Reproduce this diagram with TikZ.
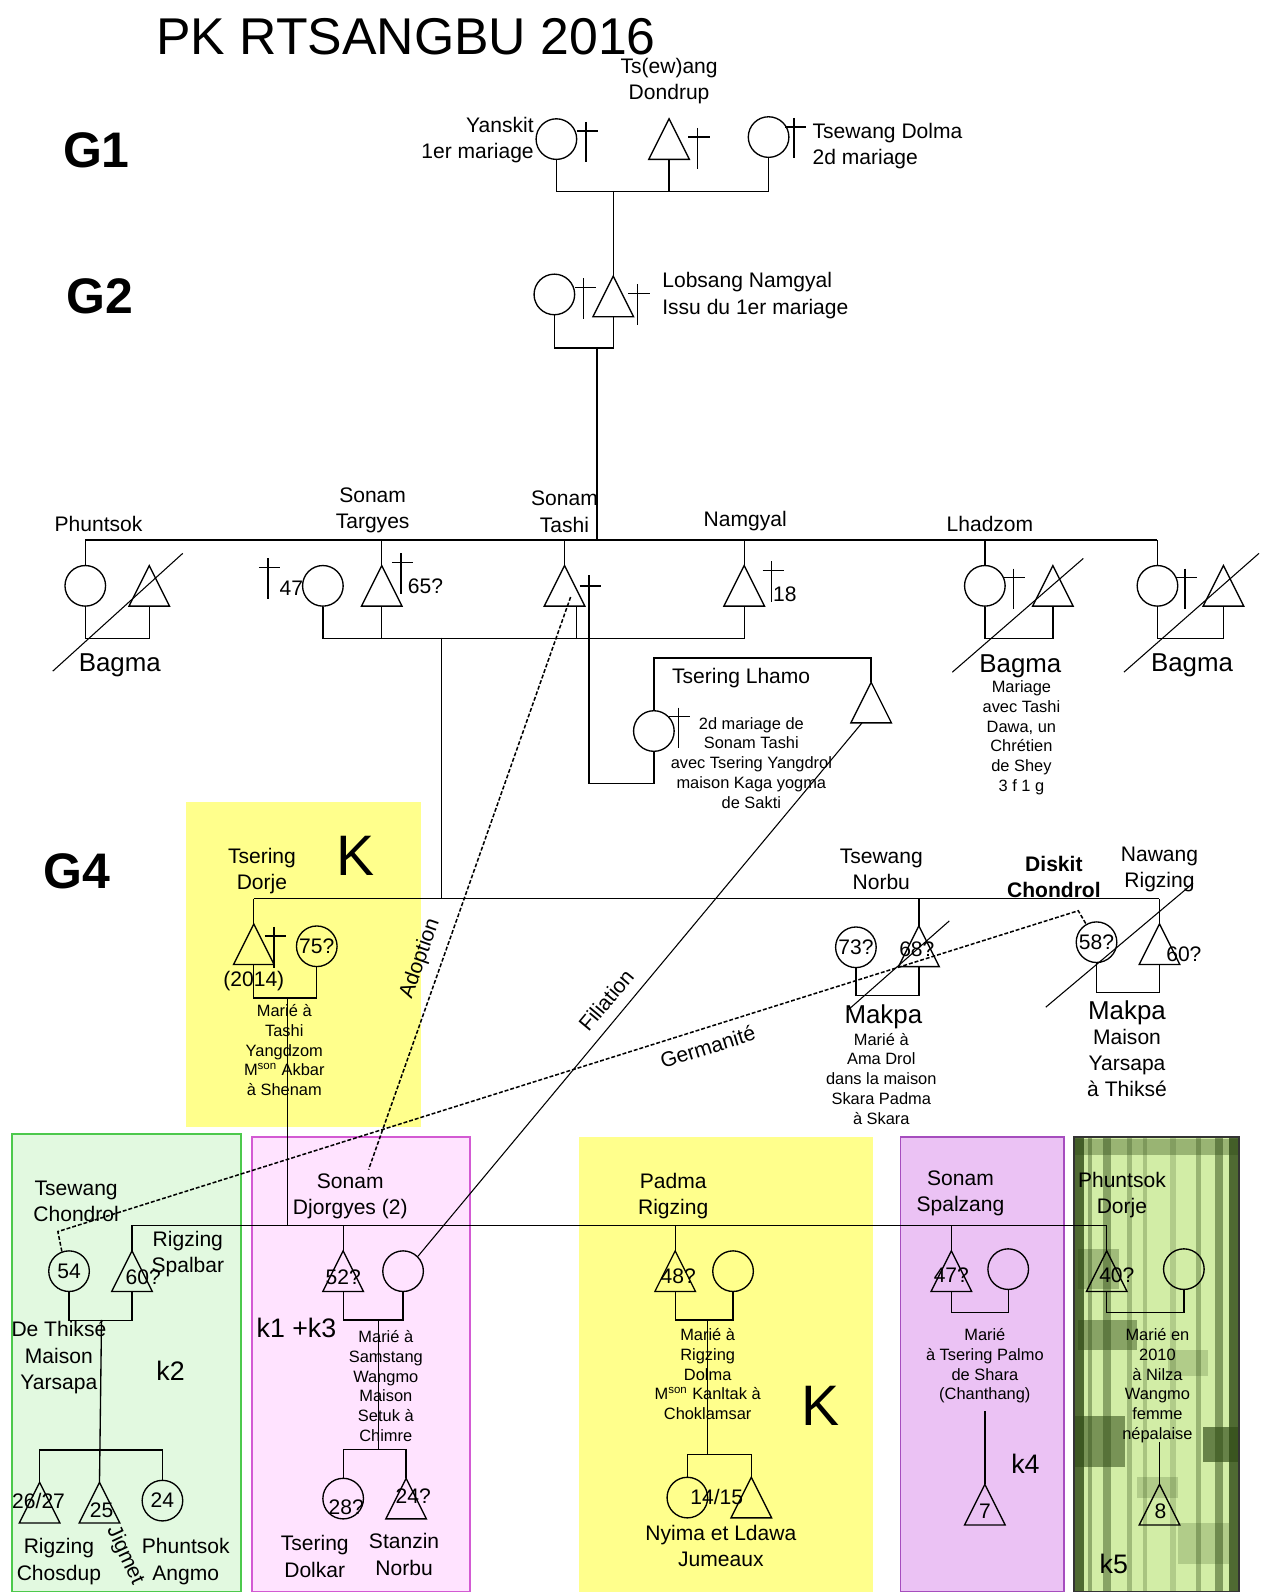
\documentclass[tikz,border=0pt]{standalone}
\usepackage{fontspec}
\setmainfont{Liberation Sans}
\usetikzlibrary{positioning, calc}
\definecolor{kyellow}{HTML}{FFFF8C}
\definecolor{kgreenf}{HTML}{E2F9E0}
\definecolor{kgreend}{HTML}{4CC94C}
\definecolor{kpinkf}{HTML}{FFE3FF}
\definecolor{kpinkd}{HTML}{D35AD3}
\definecolor{kviolf}{HTML}{EBC2F4}
\definecolor{kviold}{HTML}{A64DBE}
\definecolor{kmoss}{HTML}{D2EDA6}
\definecolor{kmossd}{HTML}{2F4A16}
% male: triangle with apex at (#2,#3), base centre named #1-b
\newcommand{\kmale}[3]{%
  \coordinate (#1) at (#2,#3);
  \coordinate (#1-b) at (#2,#3+40);
  \draw[sym] (#1) -- ++(20,40) -- ++(-40,0) -- cycle;}
% deceased: small cross, top of the stem at (#1,#2)
\newcommand{\kdead}[2]{%
  \draw[sym] (#1,#2) -- ++(0,40) (#1-9,#2+9) -- ++(21,0);}

\begin{document}
\begin{tikzpicture}[x=0.02cm, y=-0.02cm,
    sym/.style={draw=black, line width=0.75pt},
    fem/.style={draw=black, line width=0.75pt, circle, minimum size=0.8cm,
                inner sep=0pt, font=\fontsize{11.8}{14}\selectfont},
    lbl/.style={font=\fontsize{11.8}{14.7}\selectfont, inner sep=0pt, align=center},
    sml/.style={font=\fontsize{9.2}{11.1}\selectfont, inner sep=0pt, align=center,
                anchor=north},
    big/.style={font=\fontsize{14.5}{17}\selectfont, inner sep=0pt},
    kay/.style={font=\fontsize{15}{18}\selectfont, inner sep=0pt},
    bigk/.style={font=\fontsize{32}{36}\selectfont, inner sep=0pt},
    gen/.style={font=\fontsize{28}{32}\selectfont\bfseries, inner sep=0pt},
    strike/.style={draw=black, line width=0.6pt},
    link/.style={draw=black, line width=0.85pt, dash pattern=on 2.2pt off 1.1pt},
    fil/.style={draw=black, line width=0.6pt},
  ]
\useasboundingbox (0,0) rectangle (1242,1568);

% =========================================================================
% background boxes
% =========================================================================
\fill[kyellow] (183,790) rectangle (415,1110);
\filldraw[fill=kgreenf, draw=kgreend, line width=1pt] (12,1117) rectangle (237,1568);
\filldraw[fill=kpinkf, draw=kpinkd, line width=1pt] (248,1120) rectangle (463,1568);
\fill[kyellow] (570,1120) rectangle (860,1568);
\filldraw[fill=kviolf, draw=kviold, line width=1pt] (887,1120) rectangle (1048,1568);
\begin{scope}
  \clip (1058,1120) rectangle (1220,1568);
  \fill[kmoss] (1058,1120) rectangle (1220,1568);
  \foreach \sx/\sw/\so in {1059/9/0.8, 1072/4/0.4, 1086/8/0.45, 1110/5/0.3,
                           1126/4/0.25, 1152/6/0.2, 1178/5/0.35, 1197/8/0.5, 1210/10/0.8}{
    \fill[kmossd, opacity=\so] (\sx,1120) rectangle ++(\sw,448);}
  \foreach \bx/\by/\bw/\bh/\bo in {1058/1122/162/16/0.35, 1062/1230/40/40/0.3,
                                   1062/1300/58/30/0.45, 1150/1330/40/25/0.2,
                                   1058/1395/50/50/0.55, 1185/1405/35/35/0.65,
                                   1120/1455/40/20/0.2, 1160/1500/50/40/0.2}{
    \fill[kmossd, opacity=\bo] (\bx,\by) rectangle ++(\bw,\bh);}
\end{scope}
\draw[draw=black!80, line width=1pt] (1058,1120) rectangle (1220,1568);

% =========================================================================
% titles
% =========================================================================
\node[font=\fontsize{29}{34}\selectfont, inner sep=0pt] (title) at (400,36) {PK RTSANGBU 2016};
\node[gen] (g1) at (95,148) {G1};
\node[gen] (g2) at (98,292) {G2};
\node[gen] (g4) at (76,858) {G4};

% =========================================================================
% G1 -- Ts(ew)ang Dondrup and his two wives
% =========================================================================
\node[fem] (yanskit) at (548,137) {};
\kdead{577}{120}
\kmale{dondrup}{659}{117}
\kdead{687}{126}
\node[fem] (dolma) at (757,135) {};
\kdead{782}{116}
\node[lbl, anchor=east, align=right] (yanskitl) at (526,138) {Yanskit\\1er mariage};
\node[lbl] (dondrupl) at (659,80) {Ts(ew)ang\\Dondrup};
\node[lbl, anchor=west, align=left] (dolmal) at (800,144) {Tsewang Dolma\\2d mariage};
\coordinate (g1bar) at (604,188);
\draw[sym] (yanskit.south) -- ++(0,31) -| (dolma.south);
\draw[sym] (dondrup-b) -- (dondrup-b |- g1bar);

% =========================================================================
% G2 -- Lobsang Namgyal
% =========================================================================
\node[fem] (g2wife) at (546,290) {};
\kdead{575}{274}
\kmale{lobsang}{604}{272}
\kdead{628}{280}
\node[lbl, anchor=west, align=left] (lobsangl) at (652,291) {Lobsang Namgyal\\Issu du 1er mariage};
\draw[sym] (g1bar) -- (lobsang);
\draw[sym] (g2wife.south) -- ++(0,32) -| (lobsang-b);
\coordinate (g2bar) at (588,342);

% =========================================================================
% G3 -- siblings
% =========================================================================
\coordinate (g3l) at (84,532);
\coordinate (g3r) at (1140,532);
\draw[sym] (g3l) -- (g3r);
\draw[sym] (g2bar) -- (g2bar |- g3l);

% Phuntsok
\node[fem] (phuntsok) at (84,577) {};
\kmale{phuntsokh}{147}{557}
\draw[sym] (phuntsok.north |- g3l) -- (phuntsok.north);
\draw[sym] (phuntsok.south) -- ++(0,31) -| (phuntsokh-b);
\draw[strike] (52,661) -- (180,545);
\node[lbl] (phuntsokl) at (97,516) {Phuntsok};
\node[big] (bagma1) at (118,655) {Bagma};

% Sonam Targyes
\node[fem] (targw) at (318,577) {};
\kdead{264}{550}
\node[lbl] (d47) at (287,579) {47};
\kmale{targyes}{376}{557}
\kdead{395}{545}
\node[lbl] (d65) at (419,577) {65?};
\node[lbl] (targyesl) at (367,503) {Sonam\\Targyes};
\draw[sym] (targyes |- g3l) -- (targyes);

% Sonam Tashi
\kmale{tashi}{556}{557}
\coordinate (tashix) at (580,566);
\coordinate (tashiv) at (568,598);
\draw[sym] (571,577) -- ++(21,0);
\node[lbl] (tashil) at (556,504) {Sonam\\Tashi};
\draw[sym] (tashi |- g3l) -- (tashi);

% Namgyal
\kmale{namgyal}{733}{557}
\kdead{760}{553}
\node[lbl] (d18) at (773,585) {18};
\node[lbl] (namgyall) at (734,513) {Namgyal};
\draw[sym] (namgyal |- g3l) -- (namgyal);

% couple line shared by Targyes, Tashi and Namgyal
\coordinate (g3bar) at (435,628);
\draw[sym] (targw.south) -- ++(0,31) -| (namgyal-b);
\draw[sym] (targyes-b) -- (targyes-b |- g3bar);
\draw[sym] (tashiv) -- (tashiv |- g3bar);

% Lhadzom
\node[fem] (lhadzom) at (970,577) {};
\kdead{998}{560}
\kmale{lhadzomh}{1037}{557}
\draw[sym] (lhadzom.north |- g3l) -- (lhadzom.north);
\draw[sym] (lhadzom.south) -- ++(0,31) -| (lhadzomh-b);
\draw[strike] (938,662) -- (1067,550);
\node[lbl] (lhadzoml) at (975,516) {Lhadzom};
\node[big] (bagma2) at (1005,656) {Bagma};
\node[sml] (bagmanote) at (1006,670) {Mariage\\avec Tashi\\Dawa, un\\Chrétien\\de Shey\\3 f 1 g};

% last sister
\node[fem] (bagmaw) at (1140,577) {};
\kdead{1167}{560}
\kmale{bagmah}{1205}{557}
\draw[sym] (g3r) -- (bagmaw.north);
\draw[sym] (bagmaw.south) -- ++(0,31) -| (bagmah-b);
\draw[strike] (1107,662) -- (1240,545);
\node[big] (bagma3) at (1174,655) {Bagma};

% Tsering Lhamo, second marriage of Sonam Tashi
\node[fem] (lhamo) at (644,720) {};
\kdead{668}{697}
\kmale{lhamoh}{858}{672}
\draw[sym] (lhamo.north) -- (644,648) -| (lhamoh);
\coordinate (lhamou) at (644,772);
\draw[sym] (lhamo.south) -- (lhamou) -| (tashix);
\node[lbl] (lhamol) at (730,668) {Tsering Lhamo};
\node[sml] (lhamonote) at (740,706) {2d mariage de\\Sonam Tashi\\avec Tsering Yangdrol\\maison Kaga yogma\\de Sakti};

% =========================================================================
% G4
% =========================================================================
\coordinate (g4l) at (250,885);
\coordinate (g4r) at (1142,885);
\draw[sym] (g4l) -- (g4r);
\draw[sym] (g3bar) -- (g3bar |- g4l);

% Tsering Dorje
\kmale{dorje}{250}{910}
\kdead{270}{913}
\node[fem] (dorjew) at (312,932) {75?};
\draw[sym] (g4l) -- (dorje);
\draw[sym] (dorje-b) -- ++(0,33) -| (dorjew.south);
\coordinate (g4u) at (283,983);
\node[lbl] (dorjel) at (258,858) {Tsering\\Dorje};
\node[bigk] (kay1) at (350,843) {K};
\node[lbl] (d2014) at (250,966) {(2014)};
\node[sml] (dorjenote) at (280,989) {Marié à\\Tashi\\Yangdzom\\M\textsuperscript{son} Akbar\\à Shenam};

% Tsewang Norbu
\node[fem] (norbuw) at (843,933) {73?};
\kmale{norbu}{905}{912}
\draw[sym] (norbu |- g4l) -- (norbu);
\draw[sym] (norbuw.south) -- ++(0,27) -| (norbu-b);
\draw[strike] (835,995) -- (935,907);
\node[lbl] (d68) at (903,935) {68?};
\node[lbl] (norbul) at (868,856) {Tsewang\\Norbu};
\node[big] (makpa1) at (870,1001) {Makpa};
\node[sml] (norbunote) at (868,1017) {Marié à\\Ama Drol\\dans la maison\\Skara Padma\\à Skara};

% Nawang Rigzing and Diskit Chondrol
\node[fem] (diskit) at (1080,928) {58?};
\kmale{nawang}{1142}{910}
\draw[sym] (g4r) -- (nawang);
\draw[sym] (diskit.south) -- ++(0,29) -| (nawang-b);
\draw[strike] (1030,992) -- (1175,870);
\node[lbl] (d60a) at (1166,940) {60?};
\node[lbl, font=\fontsize{11.8}{14.7}\selectfont\bfseries] (diskitl) at (1038,864) {Diskit\\Chondrol};
\node[lbl] (nawangl) at (1142,856) {Nawang\\Rigzing};
\node[big] (makpa2) at (1110,998) {Makpa};
\node[lbl, anchor=north] (nawangnote) at (1110,1013) {Maison\\Yarsapa\\à Thiksé};

% =========================================================================
% G5
% =========================================================================
\coordinate (g5l) at (130,1207);
\coordinate (g5r) at (1090,1207);
\draw[sym] (g5l) -- (g5r);
\draw[sym] (g4u) -- (g4u |- g5l);

% green box -- k2
\node[fem] (chondrol) at (68,1252) {54};
\kmale{spalbar}{130}{1232}
\draw[sym] (g5l) -- (spalbar);
\draw[sym] (chondrol.south) -- ++(0,28) -| (spalbar-b);
\coordinate (u5a) at (100,1300);
\kmale{chosdup}{39}{1460}
\kmale{jigmet}{98}{1460}
\node[fem] (angmo) at (160,1478) {24};
\draw[sym] (chosdup) -- ++(0,-32) -| (angmo.north);
\draw[sym] (u5a) -- (jigmet);
\node[lbl] (chondroll) at (75,1183) {Tsewang\\Chondrol};
\node[lbl] (spalbarl) at (185,1235) {Rigzing\\Spalbar};
\node[lbl] (d60b) at (141,1258) {60?};
\node[lbl] (thiksel) at (58,1337) {De Thiksé\\Maison\\Yarsapa};
\node[kay] (k2) at (168,1350) {k2};
\node[lbl] (d2627) at (38,1478) {26/27};
\node[lbl] (d25) at (100,1487) {25};
\node[lbl] (chosdupl) at (58,1538) {Rigzing\\Chosdup};
\node[lbl, rotate=-65] (jigmetl) at (123,1532) {Jigmet};
\node[lbl] (angmol) at (183,1538) {Phuntsok\\Angmo};

% pink box -- k1 +k3
\kmale{djorgyes}{338}{1232}
\node[fem] (djorgw) at (397,1252) {};
\draw[sym] (djorgyes |- g5l) -- (djorgyes);
\draw[sym] (djorgyes-b) -- ++(0,28) -| (djorgw.south);
\coordinate (u5b) at (373,1300);
\node[fem] (dolkar) at (338,1476) {};
\kmale{stanzin}{400}{1456}
\draw[sym] (dolkar.north) -- ++(0,-28) -| (stanzin);
\draw[sym] (u5b) -- (u5b |- 0,1428);
\node[lbl] (djorgyesl) at (345,1178) {Sonam\\Djorgyes (2)};
\node[lbl] (d52) at (338,1258) {52?};
\node[kay] (k13) at (292,1308) {k1 +k3};
\node[sml] (djorgyesnote) at (380,1310) {Marié à\\Samstang\\Wangmo\\Maison\\Setuk à\\Chimre};
\node[lbl] (d28) at (341,1485) {28?};
\node[lbl] (d24b) at (407,1474) {24?};
\node[lbl] (dolkarl) at (310,1533) {Tsering\\Dolkar};
\node[lbl] (stanzinl) at (398,1531) {Stanzin\\Norbu};

% yellow box -- K
\kmale{padma}{665}{1232}
\node[fem] (padmaw) at (722,1252) {};
\draw[sym] (padma |- g5l) -- (padma);
\draw[sym] (padma-b) -- ++(0,28) -| (padmaw.south);
\coordinate (u5c) at (697,1300);
\node[fem] (nyima) at (677,1475) {};
\kmale{ldawa}{740}{1455}
\draw[sym] (nyima.north) -- ++(0,-22) -| (ldawa);
\draw[sym] (u5c) -- (u5c |- 0,1433);
\node[lbl] (padmal) at (663,1178) {Padma\\Rigzing};
\node[lbl] (d48) at (668,1257) {48?};
\node[sml] (padmanote) at (697,1308) {Marié à\\Rigzing\\Dolma\\M\textsuperscript{son} Kanltak à\\Choklamsar};
\node[bigk] (kay2) at (808,1385) {K};
\node[lbl] (d1415) at (706,1474) {14/15};
\node[lbl] (jumeauxl) at (710,1523) {Nyima et Ldawa\\Jumeaux};

% violet box -- k4
\kmale{spalzang}{937}{1232}
\node[fem] (spalzw) at (993,1250) {};
\draw[sym] (spalzang |- g5l) -- (spalzang);
\draw[sym] (spalzang-b) -- ++(0,21) -| (spalzw.south);
\coordinate (u5d) at (970,1390);
\kmale{kfour}{970}{1462}
\draw[sym] (u5d) -- (kfour);
\node[lbl] (spalzangl) at (946,1175) {Sonam\\Spalzang};
\node[lbl] (d47b) at (937,1256) {47?};
\node[sml] (spalzangnote) at (970,1308) {Marié\\à Tsering Palmo\\de Shara\\(Chanthang)};
\node[lbl] (d7) at (970,1488) {7};
\node[kay] (k4) at (1010,1442) {k4};

% mottled box -- k5
\kmale{pdorje}{1090}{1232}
\node[fem] (pdorjew) at (1166,1250) {};
\draw[sym] (g5r) -- (pdorje);
\draw[sym] (pdorje-b) -- ++(0,21) -| (pdorjew.south);
\coordinate (u5e) at (1142,1420);
\kmale{kfive}{1142}{1462}
\draw[sym] (u5e) -- (kfive);
\node[lbl] (pdorjel) at (1105,1177) {Phuntsok\\Dorje};
\node[lbl] (d40) at (1100,1256) {40?};
\node[sml] (pdorjenote) at (1140,1308) {Marié en\\2010\\à Nilza\\Wangmo\\femme\\népalaise};
\node[lbl] (d8) at (1143,1488) {8};
\node[kay] (k5) at (1097,1540) {k5};

% =========================================================================
% long links: adoption, filiation, germanite
% =========================================================================
\coordinate (adopta) at (562,588);
\coordinate (adoptb) at (363,1152);
\draw[link] (adopta) -- (adoptb);
\node[lbl, rotate=70.6] (adoptl) at (414,944) {Adoption};

\coordinate (filia) at (849,712);
\draw[fil] (filia) -- (djorgw.45);
\node[lbl, rotate=50.2] (filiationl) at (597,985) {Filiation};

\coordinate (germa) at (57,1213);
\coordinate (germb) at (1062,897);
\draw[link] (chondrol.110) -- (germa) -- (germb) -- (diskit.120);
\node[lbl, rotate=17.4] (germl) at (697,1031) {Germanité};

\end{tikzpicture}
\end{document}
